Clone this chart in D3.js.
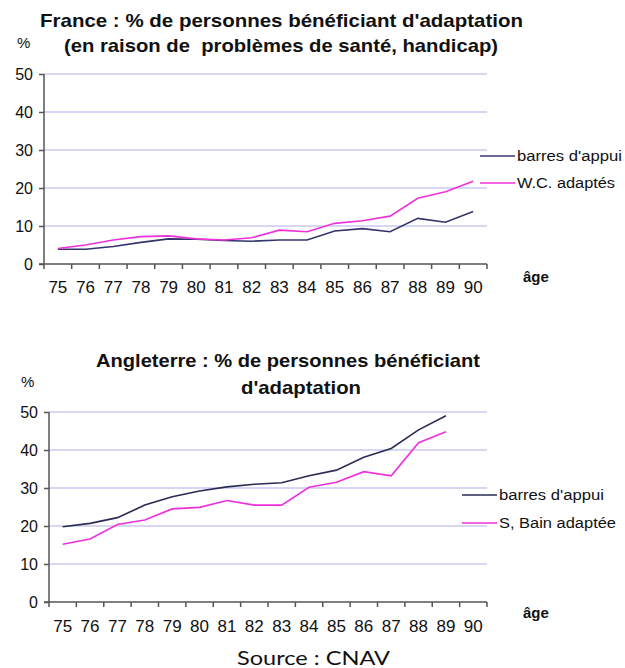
<!DOCTYPE html>
<html>
<head>
<meta charset="utf-8">
<script src="https://cdn.jsdelivr.net/npm/d3@7"></script>
<style>
  body { margin: 0; background: #fff; }
  text { font-family: "Liberation Sans", Arial, sans-serif; fill: #111; }
</style>
</head>
<body>
<svg id="chart" width="625" height="668"></svg>
<script>
// ages on the x axis
var ages = ["75","76","77","78","79","80","81","82","83","84","85","86","87","88","89","90"];
var yTicks = [0, 10, 20, 30, 40, 50];

// France
var frBarres = [3.9, 3.9, 4.6, 5.7, 6.6, 6.5, 6.2, 6.0, 6.3, 6.3, 8.7, 9.3, 8.5, 12.0, 11.0, 13.8];
var frWC     = [4.1, 5.0, 6.3, 7.2, 7.4, 6.6, 6.3, 6.9, 8.9, 8.5, 10.7, 11.4, 12.6, 17.3, 19.0, 21.8];

// Angleterre (no value at 90)
var enBarres = [19.8, 20.7, 22.2, 25.5, 27.7, 29.2, 30.3, 31.0, 31.4, 33.2, 34.7, 38.1, 40.4, 45.3, 49.0];
var enBain   = [15.2, 16.6, 20.4, 21.6, 24.5, 24.9, 26.7, 25.5, 25.5, 30.2, 31.5, 34.3, 33.2, 41.9, 44.8];

var navy = "#34346c";
var magenta = "#ee30dc";

var svg = d3.select("#chart");

function drawChart(opt) {
  var x = d3.scaleBand().domain(ages).range([opt.x0, 487]);
  var y = d3.scaleLinear().domain([0, 50]).range([opt.y0, opt.y0 - 190]);
  var g = svg.append("g");

  // gridlines
  g.selectAll(".grid").data(yTicks.slice(1)).enter().append("line")
    .attr("x1", opt.x0).attr("x2", 487)
    .attr("y1", function(d) { return y(d); }).attr("y2", function(d) { return y(d); })
    .attr("stroke", "#cacaf2").attr("stroke-width", 1.5);

  // y axis
  var yAxis = g.append("g").attr("transform", "translate(" + opt.x0 + ",0)")
    .call(d3.axisLeft(y).tickValues(yTicks).tickSize(5).tickPadding(6));
  yAxis.select(".domain").attr("stroke", "#555").attr("stroke-width", 1.5).attr("d", "M0," + y(0) + "V" + y(50));
  yAxis.selectAll(".tick line").attr("stroke", "#555").attr("stroke-width", 1.5);
  yAxis.selectAll(".tick text").style("font-size", "16px").style("font-family", "Liberation Sans, Arial").attr("fill", "#111");

  // x axis: ticks on the band edges
  var xAxis = g.append("g").attr("transform", "translate(0," + opt.y0 + ")");
  xAxis.append("line").attr("x1", opt.x0 - 5).attr("x2", 487)
    .attr("stroke", "#555").attr("stroke-width", 1.5);
  xAxis.selectAll(".xt").data(ages.concat(["end"])).enter().append("line")
    .attr("x1", function(d, i) { return i < ages.length ? x(d) : 487; })
    .attr("x2", function(d, i) { return i < ages.length ? x(d) : 487; })
    .attr("y1", 0).attr("y2", 5)
    .attr("stroke", "#555").attr("stroke-width", 1.5);
  xAxis.selectAll(".xl").data(ages).enter().append("text")
    .attr("x", function(d) { return x(d) + x.bandwidth() / 2; })
    .attr("y", opt.labelDy)
    .attr("text-anchor", "middle")
    .style("font-size", "17px")
    .text(function(d) { return d; });

  // lines
  var line = d3.line()
    .x(function(d, i) { return x(ages[i]) + x.bandwidth() / 2; })
    .y(function(d) { return y(d); });
  opt.series.forEach(function(s) {
    g.append("path").datum(s.values)
      .attr("d", line)
      .attr("fill", "none")
      .attr("stroke", s.color)
      .attr("stroke-width", 1.6);
  });

  // legend
  opt.series.forEach(function(s, i) {
    var ly = opt.legendY[i];
    g.append("line").attr("x1", opt.legendX).attr("x2", opt.legendX + 35)
      .attr("y1", ly).attr("y2", ly).attr("stroke", s.color).attr("stroke-width", 1.6);
    g.append("text").attr("x", opt.legendX + 37).attr("y", ly + 5)
      .attr("textLength", s.w).attr("lengthAdjust", "spacingAndGlyphs")
      .style("font-size", "15.5px").text(s.name);
  });

  // labels
  g.append("text").attr("x", 523).attr("y", opt.ageY)
    .style("font-size", "15px").style("font-weight", "bold").text("âge");
  g.append("text").attr("x", opt.pctX).attr("y", opt.pctY)
    .style("font-size", "15px").text("%");
  opt.title.forEach(function(t) {
    g.append("text").attr("x", t.x).attr("y", t.y)
      .attr("textLength", t.w).attr("lengthAdjust", "spacingAndGlyphs")
      .style("white-space", "pre")
      .style("font-size", "18.5px").style("font-weight", "bold").text(t.text);
  });
}

drawChart({
  x0: 44, y0: 264, labelDy: 29,
  series: [
    { name: "barres d'appui", values: frBarres, color: navy, w: 105 },
    { name: "W.C. adaptés", values: frWC, color: magenta, w: 98 }
  ],
  legendX: 480, legendY: [156, 183],
  ageY: 282, pctX: 17, pctY: 48,
  title: [
    { text: "France : % de personnes bénéficiant d'adaptation", x: 40, y: 27, w: 483 },
    { text: "(en raison de  problèmes de santé, handicap)", x: 64, y: 52, w: 434 }
  ]
});

drawChart({
  x0: 49, y0: 602, labelDy: 30,
  series: [
    { name: "barres d'appui", values: enBarres, color: "#2a2a55", w: 105 },
    { name: "S, Bain adaptée", values: enBain, color: magenta, w: 117 }
  ],
  legendX: 462, legendY: [495, 523],
  ageY: 618, pctX: 21, pctY: 387,
  title: [
    { text: "Angleterre : % de personnes bénéficiant", x: 96, y: 367, w: 384 },
    { text: "d'adaptation", x: 241, y: 394, w: 120 }
  ]
});

svg.append("text").attr("x", 237).attr("y", 665)
  .attr("textLength", 153).attr("lengthAdjust", "spacingAndGlyphs")
  .style("font-family", "Lato, 'Open Sans', sans-serif")
  .style("font-size", "20px")
  .text("Source : CNAV");
</script>
</body>
</html>
